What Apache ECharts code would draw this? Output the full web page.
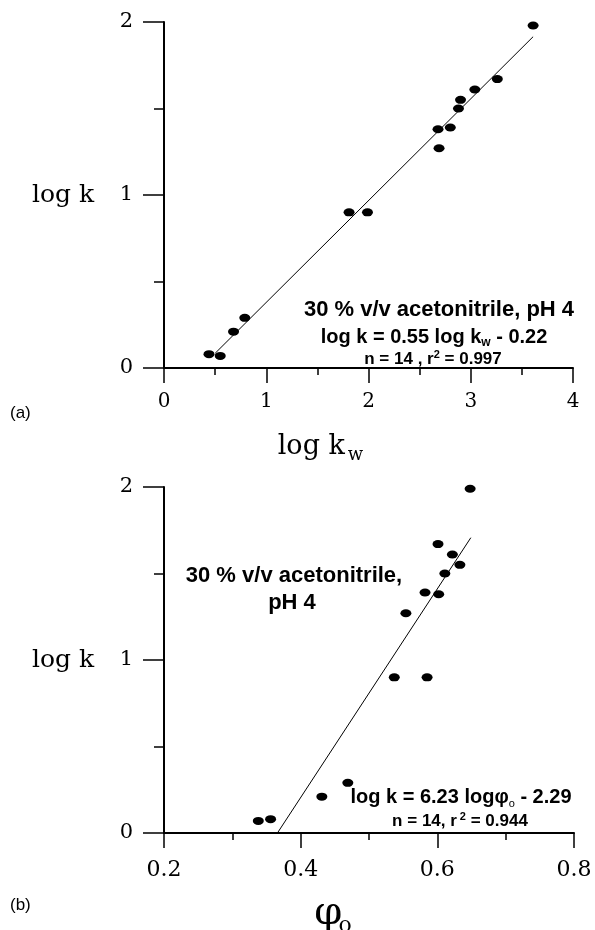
<!DOCTYPE html>
<html>
<head>
<meta charset="utf-8">
<script src="https://cdn.jsdelivr.net/npm/echarts@6/dist/echarts.min.js"></script>
<style>html,body{margin:0;padding:0;background:#fff}#c{width:595px;height:930px}</style>
</head>
<body>
<div id="c"></div>
<script>
// Panel (a): log k vs log kw
var kwX   = [3.61, 3.26, 3.04, 2.90, 2.88, 2.80, 2.68, 2.69, 1.81, 1.99, 0.79, 0.68, 0.44, 0.55];
var logkA = [1.98, 1.67, 1.61, 1.55, 1.50, 1.39, 1.38, 1.27, 0.90, 0.90, 0.29, 0.21, 0.08, 0.07];
var fitAX = [0.50, 3.61];
var fitAY = [0.085, 1.915];
// Panel (b): log k vs phi_o
var phiX  = [0.648, 0.601, 0.622, 0.633, 0.611, 0.582, 0.602, 0.554, 0.537, 0.585, 0.469, 0.431, 0.338, 0.356];
var logkB = [1.99, 1.67, 1.61, 1.55, 1.50, 1.39, 1.38, 1.27, 0.90, 0.90, 0.29, 0.21, 0.07, 0.08];
var fitBX = [0.366, 0.649];
var fitBY = [0.0, 1.707];
// Tick labels
var xTicksA = [0, 1, 2, 3, 4];
var yTicks  = [0, 1, 2];
var xTicksB = [0.2, 0.4, 0.6, 0.8];

function pairs(xs, ys){ return xs.map(function(x,i){ return [x, ys[i]]; }); }
var SERIF = '"DejaVu Serif", serif';
var SANS = '"Liberation Sans", Arial, sans-serif';

function fmt(list, dec){
  return function(v){
    for (var i=0;i<list.length;i++){ if (Math.abs(list[i]-v) < 1e-6) return dec ? list[i].toFixed(dec) : String(list[i]); }
    return '';
  };
}

function xAxisCfg(gi, min, max, interval, ticks, dec, fontSize, margin, name, nameRich, nameGap, namePad){
  return {
    gridIndex: gi, type: 'value', min: min, max: max, interval: interval,
    axisLine: {onZero: false, lineStyle: {color: '#000', width: 2}},
    axisTick: {inside: false, length: 15, lineStyle: {color: '#000', width: 1.5}},
    minorTick: {show: true, splitNumber: 2, length: 7, lineStyle: {color: '#000', width: 1.5}},
    splitLine: {show: false}, minorSplitLine: {show: false},
    axisLabel: {color: '#000', fontFamily: SERIF, fontSize: fontSize, margin: margin, formatter: fmt(ticks, dec), showMinLabel: true, showMaxLabel: true},
    name: name, nameLocation: 'middle', nameGap: nameGap,
    nameTextStyle: {color: '#000', fontFamily: SERIF, rich: nameRich, padding: namePad}
  };
}
function yAxisCfg(gi, name){
  return {
    gridIndex: gi, type: 'value', min: 0, max: 2, interval: 1,
    axisLine: {onZero: false, lineStyle: {color: '#000', width: 2}},
    axisTick: {inside: false, length: 21, lineStyle: {color: '#000', width: 1.5}},
    minorTick: {show: true, splitNumber: 2, length: 10, lineStyle: {color: '#000', width: 1.5}},
    splitLine: {show: false}, minorSplitLine: {show: false},
    axisLabel: {color: '#000', fontFamily: SERIF, fontSize: 21, margin: 31, formatter: fmt(yTicks, 0)},
    name: name, nameLocation: 'middle', nameRotate: 0, nameGap: 101,
    nameTextStyle: {color: '#000', fontFamily: SERIF, fontSize: 25, align: 'center', verticalAlign: 'middle'}
  };
}

var chart = echarts.init(document.getElementById('c'), null, {renderer: 'canvas'});
var option = {
  backgroundColor: '#fff',
  animation: false,
  grid: [
    {left: 164, right: 22, top: 22, height: 346, containLabel: false, outerBoundsMode: 'none'},
    {left: 164, right: 21, top: 487, height: 346, containLabel: false, outerBoundsMode: 'none'}
  ],
  xAxis: [
    xAxisCfg(0, 0, 4, 1, xTicksA, 0, 20, 24, '{m|log k}{s|w}',
      {m: {fontFamily: SERIF, fontSize: 27, color: '#000', lineHeight: 34}, s: {fontFamily: SERIF, fontSize: 18, color: '#000', verticalAlign: 'bottom', lineHeight: 24, padding: [0,0,0,3]}},
      62, [0, 96, 0, 0]),
    xAxisCfg(1, 0.2, 0.8, 0.2, xTicksB, 1, 22, 26, '{p|φ}{s|o}',
      {p: {fontFamily: SERIF, fontSize: 40, color: '#000', lineHeight: 46}, s: {fontFamily: SERIF, fontSize: 22, color: '#000', verticalAlign: 'bottom', lineHeight: 18, padding: [0,0,0,-4]}},
      58, [0, 72, 0, 0])
  ],
  yAxis: [ yAxisCfg(0, 'log k'), yAxisCfg(1, 'log k') ],
  series: [
    {type: 'line', xAxisIndex: 0, yAxisIndex: 0, data: pairs(fitAX, fitAY), symbol: 'none', lineStyle: {color: '#000', width: 1}, silent: true, z: 1},
    {type: 'scatter', xAxisIndex: 0, yAxisIndex: 0, data: pairs(kwX, logkA), symbol: 'circle', symbolSize: [11, 8], itemStyle: {color: '#000', opacity: 1}, z: 2},
    {type: 'line', xAxisIndex: 1, yAxisIndex: 1, data: pairs(fitBX, fitBY), symbol: 'none', lineStyle: {color: '#000', width: 1}, silent: true, z: 1},
    {type: 'scatter', xAxisIndex: 1, yAxisIndex: 1, data: pairs(phiX, logkB), symbol: 'circle', symbolSize: [11, 8], itemStyle: {color: '#000', opacity: 1}, z: 2}
  ],
  graphic: [
    {type: 'text', x: 439, y: 310, style: {text: '30 % v/v acetonitrile, pH 4', fontFamily: SANS, fontWeight: 'bold', fontSize: 22, fill: '#000', align: 'center', verticalAlign: 'middle'}},
    {type: 'text', x: 434, y: 337, style: {text: '{a|log k = 0.55 log k}{s|w}{a| - 0.22}', align: 'center', verticalAlign: 'middle',
      rich: {a: {fontFamily: SANS, fontWeight: 'bold', fontSize: 20, fill: '#000', lineHeight: 24}, s: {fontFamily: SANS, fontWeight: 'bold', fontSize: 12, fill: '#000', verticalAlign: 'bottom', lineHeight: 16}}}},
    {type: 'text', x: 433, y: 359, style: {text: '{a|n = 14 , r}{p|2}{a| = 0.997}', align: 'center', verticalAlign: 'middle',
      rich: {a: {fontFamily: SANS, fontWeight: 'bold', fontSize: 17, fill: '#000', lineHeight: 20}, p: {fontFamily: SANS, fontWeight: 'bold', fontSize: 11, fill: '#000', verticalAlign: 'top', lineHeight: 12}}}},
    {type: 'text', x: 10, y: 413, style: {text: '(a)', fontFamily: SANS, fontSize: 17, fill: '#000', align: 'left', verticalAlign: 'middle'}},

    {type: 'text', x: 294, y: 576, style: {text: '30 % v/v acetonitrile,', fontFamily: SANS, fontWeight: 'bold', fontSize: 22, fill: '#000', align: 'center', verticalAlign: 'middle'}},
    {type: 'text', x: 292, y: 603, style: {text: 'pH 4', fontFamily: SANS, fontWeight: 'bold', fontSize: 22, fill: '#000', align: 'center', verticalAlign: 'middle'}},
    {type: 'text', x: 461, y: 797, style: {text: '{a|log k = 6.23 logφ}{s|o}{a| - 2.29}', align: 'center', verticalAlign: 'middle',
      rich: {a: {fontFamily: SANS, fontWeight: 'bold', fontSize: 20, fill: '#000', lineHeight: 24}, s: {fontFamily: SANS, fontSize: 11, fill: '#000', verticalAlign: 'bottom', lineHeight: 16}}}},
    {type: 'text', x: 460, y: 821, style: {text: '{a|n = 14, r}{p|2}{a| = 0.944}', align: 'center', verticalAlign: 'middle',
      rich: {a: {fontFamily: SANS, fontWeight: 'bold', fontSize: 17, fill: '#000', lineHeight: 20}, p: {fontFamily: SANS, fontWeight: 'bold', fontSize: 11, fill: '#000', verticalAlign: 'top', lineHeight: 12, padding: [0,0,0,3]}}}},
    {type: 'text', x: 10, y: 905, style: {text: '(b)', fontFamily: SANS, fontSize: 17, fill: '#000', align: 'left', verticalAlign: 'middle'}}
  ]
};
chart.setOption(option);
</script>
</body>
</html>
